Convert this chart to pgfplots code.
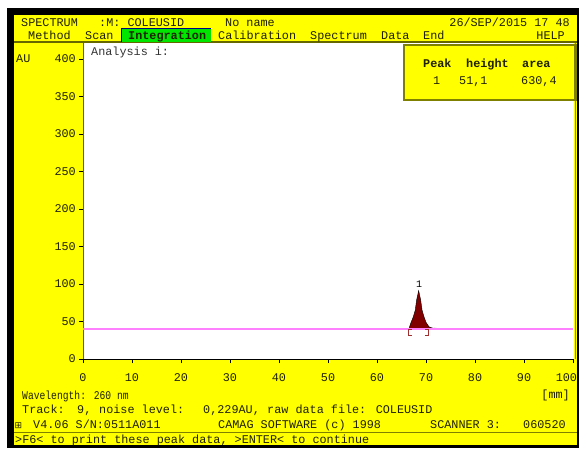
\documentclass[border=0pt]{standalone}
\usepackage{fontspec}
\setmainfont{Liberation Mono}
\newfontfamily\symfont{DejaVu Sans}
\usepackage{graphicx}
\usepackage{pgfplots}
\pgfplotsset{compat=1.18}
\definecolor{scry}{HTML}{FFFF00}
\definecolor{olivebd}{HTML}{808000}
\definecolor{txt}{HTML}{202000}
\definecolor{menugreen}{HTML}{00E600}
\definecolor{navy}{HTML}{000080}
\definecolor{basemag}{HTML}{FF80FF}
\definecolor{peakred}{HTML}{800000}
\definecolor{brk}{HTML}{A03030}
\begin{document}
\begin{tikzpicture}[x=1pt,y=1pt,font=\fontsize{11.8}{12}\selectfont]
\useasboundingbox (0,0) rectangle (579,448);
\fill[white] (0,0) rectangle (579,448);
\fill[black] (7,0) rectangle (579,440);
\fill[scry] (14,3) rectangle (577,433);
\fill[white] (84,89) rectangle (574,405);
\draw[gray, line width=1pt] (575,89) -- (575,407);
% menu underline
\draw[olivebd!80!black, line width=1.5pt] (14,406) -- (577,406);
% bottom separator
\draw[olivebd, line width=0.8pt] (14,15.5) -- (577,15.5);
% Integration box
\fill[menugreen] (121,406) rectangle (211,419);
\draw[navy, line width=1pt] (121,406) -- (121,419) -- (211,419);
\begin{scope}[every node/.style={inner sep=0pt, text=txt}]
% top row
\node[anchor=base west] at (21,421) {SPECTRUM};
\node[anchor=base west] at (99,421) {:M: COLEUSID};
\node[anchor=base west] at (225,421) {No name};
\node[anchor=base east] at (570,421) {26/SEP/2015 17 48};
% menu row
\node[anchor=base west] at (28,408) {Method};
\node[anchor=base west] at (85,408) {Scan};
\node[anchor=base west] at (128,408) {\bfseries Integration};
\node[anchor=base west] at (218,408) {Calibration};
\node[anchor=base west] at (310,408) {Spectrum};
\node[anchor=base west] at (381,408) {Data};
\node[anchor=base west] at (423,408) {End};
\node[anchor=base east] at (565,408) {HELP};
% left labels
\node[anchor=base west] at (16,385) {AU};
\node[anchor=base west, text=black!80] at (91,392) {Analysis i:};
% bottom rows
\node[anchor=base west] at (22,49) {\scalebox{0.82}[1]{Wavelength: 260 nm}};
\node[anchor=base east] at (570,50) {[mm]};
\node[anchor=base west] at (22,35) {Track:};
\node[anchor=base west] at (77,35) {9,};
\node[anchor=base west] at (99,35) {noise level:};
\node[anchor=base west] at (203,35) {0,229AU,};
\node[anchor=base west] at (267,35) {raw data file: COLEUSID};
\node[anchor=base west] at (14.5,20) {\symfont\fontsize{9}{9}\selectfont ⊞};
\node[anchor=base west] at (33,20) {V4.06 S/N:0511A011};
\node[anchor=base west] at (218,20) {CAMAG SOFTWARE (c) 1998};
\node[anchor=base west] at (430,20) {SCANNER 3:};
\node[anchor=base west] at (523,20) {060520};
\node[anchor=base west] at (15,5) {>F6< to print these peak data, >ENTER< to continue};
\end{scope}
\begin{axis}[
  at={(83pt,89pt)}, anchor=south west,
  scale only axis, width=490pt, height=316pt,
  xmin=0, xmax=100, ymin=0, ymax=421.3,
  axis x line=bottom, axis y line=left,
  x axis line style={-, black, line width=0.8pt},
  y axis line style={-, gray!70!black, line width=0.8pt},
  xtick={0,10,...,100}, ytick={0,50,...,400},
  xticklabels={0,10,20,30,40,50,60,70,80,90,{\hspace{8pt}\llap{100}}},
  tick align=outside, major tick length=4pt,
  tick style={black, line width=0.8pt},
  tick label style={font=\fontsize{11.8}{12}\selectfont, text=txt, inner sep=0pt},
  /pgf/number format/assume math mode=true,
  xticklabel style={anchor=north, yshift=-10pt},
  yticklabel style={anchor=east, xshift=-3pt},
  clip=false,
]
\addplot[fill=peakred, draw=black, line width=0.4pt] coordinates {
 (66.5,40) (66.9,48) (67.4,56) (67.8,65) (68.1,79) (68.5,91.1)
 (68.9,79) (69.2,65) (69.6,56) (70.0,49) (70.6,43) (71.3,41) (71.6,40)};
\addplot[densely dotted, black, line width=0.6pt] coordinates {(71.0,41.5) (72.3,40.8)};
\addplot[basemag, line width=1.5pt] coordinates {(0,40) (100,40)};
\addplot[brk, line width=0.8pt] coordinates {(67.1,40) (66.5,40) (66.5,32) (67.1,32)};
\addplot[brk, line width=0.8pt] coordinates {(69.8,40) (70.4,40) (70.4,32) (69.8,32)};
\node[anchor=base, inner sep=0pt, text=black, font=\fontsize{10}{10}\selectfont] at (axis cs:68.6,94.7) {1};
\end{axis}
% peak table box
\filldraw[fill=scry, draw=olivebd, line width=2.5pt] (404,348) rectangle (575.5,403);
\begin{scope}[every node/.style={inner sep=0pt, text=txt}]
\node[anchor=base west] at (423,380) {\bfseries Peak};
\node[anchor=base west] at (466,380) {\bfseries height};
\node[anchor=base west] at (522,380) {\bfseries area};
\node[anchor=base west] at (433,363) {1};
\node[anchor=base west] at (459,363) {51,1};
\node[anchor=base west] at (521,363) {630,4};
\end{scope}
\end{tikzpicture}
\end{document}
